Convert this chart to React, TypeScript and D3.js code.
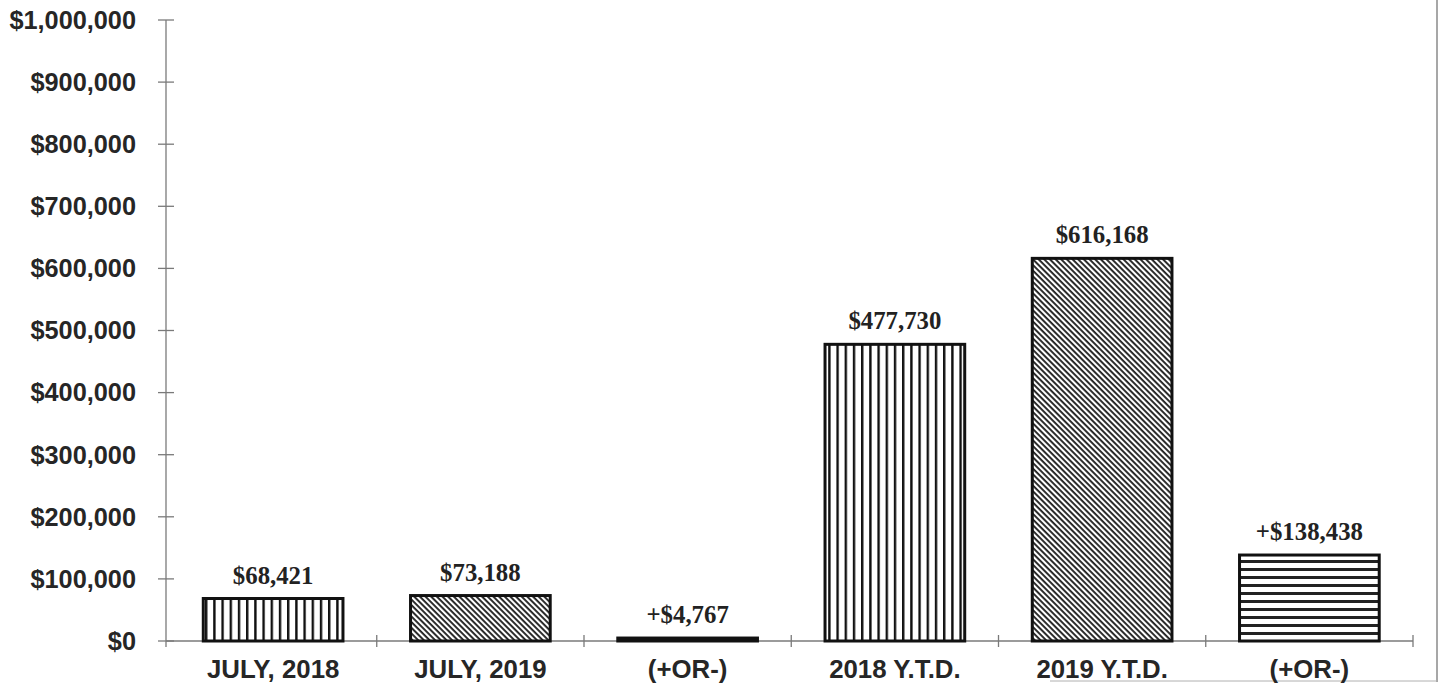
import React from "react";
import * as d3 from "d3";

const categories = ["JULY, 2018", "JULY, 2019", "(+OR-)", "2018 Y.T.D.", "2019 Y.T.D.", "(+OR-) "];
const values = [68421, 73188, 4767, 477730, 616168, 138438];
const valueLabels = ["$68,421", "$73,188", "+$4,767", "$477,730", "$616,168", "+$138,438"];
const patterns = ["vert", "diag", "solid", "vert", "diag", "horiz"];
const yTicks = [0, 100000, 200000, 300000, 400000, 500000, 600000, 700000, 800000, 900000, 1000000];

const W = 1441;
const H = 685;
const left = 166;
const bandLeft = 169.5;
const right = 1413;
const top = 20;
const bottom = 641;

export default function App() {
  const x = d3.scaleBand<string>().domain(categories).range([bandLeft, right]).paddingInner(0.326).paddingOuter(0.163);
  const y = d3.scaleLinear().domain([0, 1000000]).range([bottom, top]);
  const step = x.step();
  const fmt = (v: number) => "$" + d3.format(",")(v);
  const boundaries = d3.range(categories.length + 1).map((i) => bandLeft + i * step);
  const axisColor = "#7a7a7a";
  const fillFor = (p: string) =>
    p === "vert" ? "url(#pVert)" : p === "diag" ? "url(#pDiag)" : p === "horiz" ? "url(#pHoriz)" : "#111";

  return (
    <svg width={W} height={H} style={{ position: "absolute", left: 0, top: 0, background: "#fff" }}>
      <defs>
        <pattern id="pVert" patternUnits="userSpaceOnUse" width={8.2} height={8}>
          <rect width={8.2} height={8} fill="#fff" />
          <rect x={0} y={0} width={2.4} height={8} fill="#111" />
        </pattern>
        <pattern id="pHoriz" patternUnits="userSpaceOnUse" width={8} height={8}>
          <rect width={8} height={8} fill="#fff" />
          <rect x={0} y={0} width={8} height={3} fill="#222" />
        </pattern>
        <pattern id="pDiag" patternUnits="userSpaceOnUse" width={4} height={4} patternTransform="rotate(45)">
          <rect width={4} height={4} fill="#fff" />
          <rect x={0} y={0} width={4} height={1.9} fill="#222" />
        </pattern>
      </defs>

      {/* frame lines */}
      <line x1={1437} x2={1437} y1={0} y2={682} stroke="#8a8a8a" strokeWidth={1.5} />
      <line x1={1050} x2={1437} y1={681} y2={681} stroke="#b0b0b0" strokeWidth={1} />

      {/* y axis */}
      <line x1={left} x2={left} y1={top} y2={bottom + 6} stroke={axisColor} strokeWidth={1.3} />
      {yTicks.map((t) => (
        <g key={t}>
          <line x1={left - 8} x2={left + 8} y1={y(t)} y2={y(t)} stroke={axisColor} strokeWidth={1.3} />
          <text
            x={136}
            y={y(t)}
            dy="0.35em"
            textAnchor="end"
            fontFamily="Liberation Sans, Arial, sans-serif"
            fontWeight="bold"
            fontSize={25.3}
            fill="#262626"
          >
            {fmt(t)}
          </text>
        </g>
      ))}

      {/* x axis */}
      <line x1={left} x2={right} y1={bottom} y2={bottom} stroke={axisColor} strokeWidth={1.3} />
      {boundaries.slice(1).map((b, i) => (
        <line key={i} x1={b} x2={b} y1={bottom - 6} y2={bottom + 6} stroke={axisColor} strokeWidth={1.3} />
      ))}

      {/* bars */}
      {categories.map((c, i) => {
        const x0 = x(c)!;
        const bw = x.bandwidth();
        const yt = y(values[i]);
        return (
          <g key={c}>
            <rect
              x={x0}
              y={yt}
              width={bw}
              height={bottom - yt}
              fill={fillFor(patterns[i])}
              stroke="#111"
              strokeWidth={3}
            />
            <text
              x={x0 + bw / 2}
              y={yt - 15}
              textAnchor="middle"
              fontFamily="Liberation Serif, Times New Roman, serif"
              fontWeight="bold"
              fontSize={24.8}
              fill="#222"
            >
              {valueLabels[i]}
            </text>
            <text
              x={x0 + bw / 2}
              y={678}
              textAnchor="middle"
              fontFamily="Liberation Sans, Arial, sans-serif"
              fontWeight="bold"
              fontSize={25.8}
              fill="#262626"
            >
              {c.trim()}
            </text>
          </g>
        );
      })}
    </svg>
  );
}
